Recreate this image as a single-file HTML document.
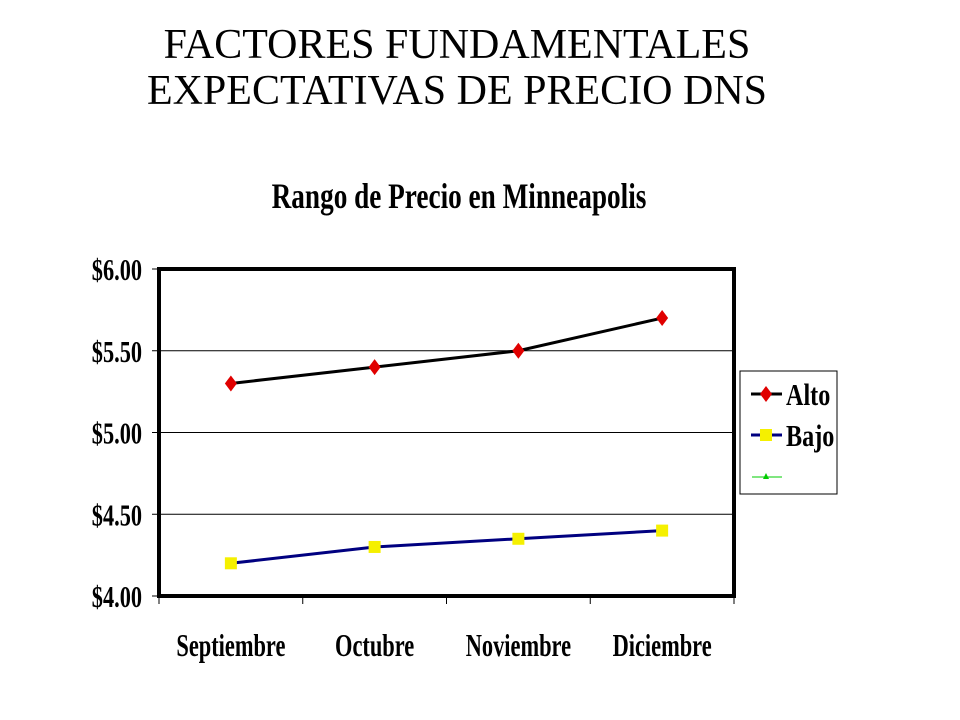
<!DOCTYPE html>
<html><head><meta charset="utf-8"><style>
body{margin:0;background:#fff;width:960px;height:720px;overflow:hidden}
svg{display:block}
.t{font-family:"Liberation Serif",serif;font-size:42px;fill:#000}
.c{font-family:"Liberation Serif",serif;font-weight:bold;fill:#000}
</style></head><body>
<svg id="chart" width="960" height="720">
<text class="t" x="457" y="58" text-anchor="middle">FACTORES FUNDAMENTALES</text>
<text class="t" x="457" y="104" text-anchor="middle">EXPECTATIVAS DE PRECIO DNS</text>
<text class="c" font-size="36" x="0" y="0" text-anchor="middle" transform="translate(459,208) scale(0.757,1)">Rango de Precio en Minneapolis</text>
<g id="grid"></g><g id="axes"></g><g id="series"></g>
<g>
<rect x="740" y="371" width="97" height="123" fill="#fff" stroke="#000" stroke-width="1"/>
<line x1="751" y1="394" x2="782" y2="394" stroke="#000" stroke-width="3"/>
<polygon points="766,386 772,394 766,402 760,394" fill="#e00000"/>
<text class="c" font-size="31" transform="translate(786,405) scale(0.78,1)">Alto</text>
<line x1="751" y1="435" x2="782" y2="435" stroke="#000080" stroke-width="3"/>
<rect x="760" y="429" width="12" height="12" fill="#f5f000"/>
<text class="c" font-size="31" transform="translate(786,446) scale(0.78,1)">Bajo</text>
<line x1="752" y1="477" x2="782" y2="477" stroke="#00cc00" stroke-width="1"/>
<polygon points="766,473 769,479 763,479" fill="#00cc00"/>
</g>
</svg>
<script>
const categories=["Septiembre","Octubre","Noviembre","Diciembre"];
const alto=[5.30,5.40,5.50,5.70];
const bajo=[4.20,4.30,4.35,4.40];
const yTicks=[4.00,4.50,5.00,5.50,6.00];
const yTickLabels=["$4.00","$4.50","$5.00","$5.50","$6.00"];
const L=159,R=734,T=269,B=596,ymin=4,ymax=6;
const NS="http://www.w3.org/2000/svg";
const y=v=>B-(v-ymin)/(ymax-ymin)*(B-T);
const bw=(R-L)/categories.length;
const x=i=>L+bw*(i+0.5);
function mk(tag,attrs,parent){const e=document.createElementNS(NS,tag);for(const k in attrs)e.setAttribute(k,attrs[k]);document.getElementById(parent).appendChild(e);return e;}
yTicks.forEach((v,i)=>{
 if(i>0&&i<yTicks.length-1){const g=mk('line',{x1:L,x2:R,y1:y(v),y2:y(v),stroke:'#000','stroke-width':1},'grid');
 
 }
 const tk=mk('line',{x1:L-7,x2:L,y1:y(v),y2:y(v),stroke:'#000','stroke-width':1},'axes');
 
 
 const t=mk('text',{class:'c','font-size':31,'text-anchor':'end',transform:`translate(142,${y(v)+11}) scale(0.72,1)`},'axes');
 t.textContent=yTickLabels[i];
 
 
});
const frame=mk('rect',{x:L,y:T,width:R-L,height:B-T,fill:'none',stroke:'#000','stroke-width':4},'axes');


categories.forEach((c,i)=>{
 const tk=mk('line',{x1:L+bw*i,x2:L+bw*i,y1:B,y2:B+8,stroke:'#000','stroke-width':1},'axes');
 
 
 const t=mk('text',{class:'c','font-size':32,'text-anchor':'middle',transform:`translate(${x(i)},656) scale(0.7,1)`},'axes');
 t.textContent=c;
 
 
});
const tk=mk('line',{x1:R,x2:R,y1:B,y2:B+8,stroke:'#000','stroke-width':1},'axes');


const la=mk('polyline',{points:alto.map((v,i)=>x(i)+','+y(v)).join(' '),fill:'none',stroke:'#000','stroke-width':3},'series');


const lb=mk('polyline',{points:bajo.map((v,i)=>x(i)+','+y(v)).join(' '),fill:'none',stroke:'#000080','stroke-width':3},'series');


alto.forEach((v,i)=>{const cx=x(i),cy=y(v);
 const p=mk('polygon',{points:`${cx},${cy-8} ${cx+6},${cy} ${cx},${cy+8} ${cx-6},${cy}`,fill:'#e00000'},'series');
 
 });
bajo.forEach((v,i)=>{const cx=x(i),cy=y(v);
 const p=mk('rect',{x:cx-6,y:cy-6,width:12,height:12,fill:'#f5f000'},'series');
 
 });
</script>
</body></html>
